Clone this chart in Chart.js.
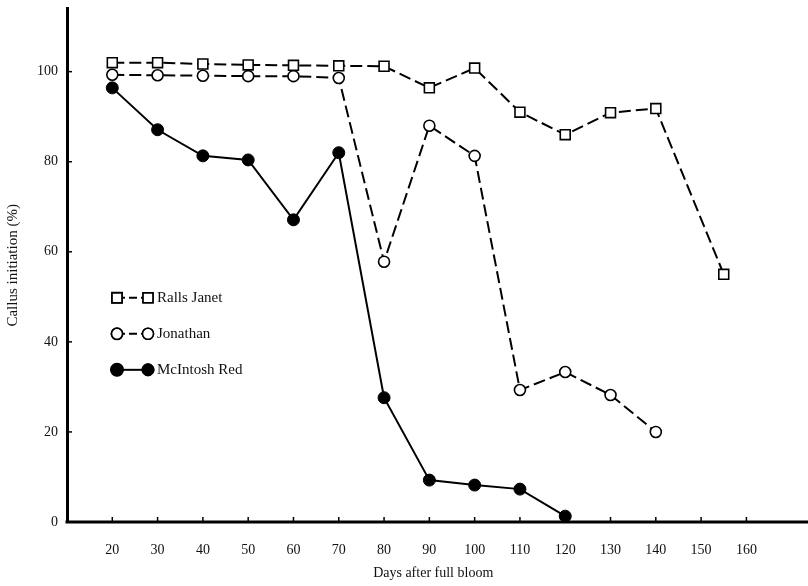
<!DOCTYPE html>
<html>
<head>
<meta charset="utf-8">
<script src="https://cdn.jsdelivr.net/npm/chart.js@4/dist/chart.umd.min.js"></script>
<style>
  html, body { margin: 0; padding: 0; background: #fff; overflow: hidden; }
  canvas { display: block; }
</style>
</head>
<body>
<canvas id="chart" width="808" height="586"></canvas>
<script>
// data
const daysRalls = [20, 30, 40, 50, 60, 70, 80, 90, 100, 110, 120, 130, 140, 155];
const rallsJanet = [102, 102, 101.7, 101.5, 101.4, 101.3, 101.2, 96.4, 100.8, 91, 86, 90.9, 91.8, 55];
const daysJonathan = [20, 30, 40, 50, 60, 70, 80, 90, 100, 110, 120, 130, 140];
const jonathan = [99.3, 99.2, 99.1, 99, 99, 98.6, 57.8, 88, 81.3, 29.3, 33.3, 28.2, 20];
const daysMcIntosh = [20, 30, 40, 50, 60, 70, 80, 90, 100, 110, 120];
const mcIntoshRed = [96.4, 87.1, 81.3, 80.4, 67.1, 82, 27.6, 9.3, 8.2, 7.3, 1.3];
const xTicks = [20, 30, 40, 50, 60, 70, 80, 90, 100, 110, 120, 130, 140, 150, 160];
const yTicks = [0, 20, 40, 60, 80, 100];
const seriesNames = ['Ralls Janet', 'Jonathan', 'McIntosh Red'];

const pts = (xs, ys) => xs.map((x, i) => ({ x: x, y: ys[i] }));
const serif = '"Liberation Serif", "DejaVu Serif", serif';
const noPad = s => { s.paddingLeft = 0; s.paddingRight = 0; s.paddingTop = 0; s.paddingBottom = 0; };

// x axis line to the edge, inward tick marks, and the in-plot legend
const extras = {
  id: 'extras',
  afterDraw(chart) {
    const ctx = chart.ctx;
    const xs = chart.scales.x, ys = chart.scales.y;
    const a = chart.chartArea;
    ctx.save();
    ctx.strokeStyle = '#000';
    ctx.lineWidth = 3;
    ctx.beginPath(); ctx.moveTo(a.left - 1.5, a.bottom); ctx.lineTo(chart.width, a.bottom); ctx.stroke();
    ctx.lineWidth = 1.5;
    xTicks.forEach(v => {
      const px = xs.getPixelForValue(v);
      ctx.beginPath(); ctx.moveTo(px, a.bottom); ctx.lineTo(px, a.bottom - 5); ctx.stroke();
    });
    yTicks.forEach(v => {
      const py = ys.getPixelForValue(v);
      ctx.beginPath(); ctx.moveTo(a.left, py); ctx.lineTo(a.left + 5, py); ctx.stroke();
    });

    // legend
    const lx = a.left + 50, gap = 36;
    const ly0 = ys.getPixelForValue(50) + 1;
    chart.data.datasets.forEach((ds, i) => {
      const y = ly0 + i * gap;
      ctx.strokeStyle = '#000';
      ctx.lineWidth = ds.borderWidth;
      ctx.setLineDash(ds.borderDash && ds.borderDash.length ? [8, 4] : []);
      ctx.beginPath(); ctx.moveTo(lx, y); ctx.lineTo(lx + 31, y); ctx.stroke();
      ctx.setLineDash([]);
      [lx, lx + 31].forEach(mx => {
        Chart.helpers.drawPoint(ctx, {
          pointStyle: ds.pointStyle, radius: ds.pointRadius, rotation: 0, borderWidth: ds.pointBorderWidth
        }, mx, y);
        ctx.fillStyle = ds.pointBackgroundColor;
        ctx.strokeStyle = '#000';
        ctx.lineWidth = ds.pointBorderWidth;
        ctx.fill(); ctx.stroke();
      });
      ctx.fillStyle = '#111';
      ctx.font = '15px ' + serif;
      ctx.textBaseline = 'middle';
      ctx.fillText(ds.label, lx + 40, y);
    });
    ctx.restore();
  }
};

new Chart(document.getElementById('chart'), {
  type: 'line',
  data: {
    datasets: [
      {
        label: seriesNames[0], data: pts(daysRalls, rallsJanet),
        borderColor: '#000', borderWidth: 2, borderDash: [12, 5],
        pointStyle: 'rect', pointRadius: 7, pointBorderWidth: 1.6,
        pointBackgroundColor: '#fff', pointBorderColor: '#000'
      },
      {
        label: seriesNames[1], data: pts(daysJonathan, jonathan),
        borderColor: '#000', borderWidth: 2, borderDash: [12, 5],
        pointStyle: 'circle', pointRadius: 5.5, pointBorderWidth: 1.6,
        pointBackgroundColor: '#fff', pointBorderColor: '#000'
      },
      {
        label: seriesNames[2], data: pts(daysMcIntosh, mcIntoshRed),
        borderColor: '#000', borderWidth: 2, borderDash: [],
        pointStyle: 'circle', pointRadius: 6, pointBorderWidth: 1,
        pointBackgroundColor: '#000', pointBorderColor: '#000'
      }
    ]
  },
  options: {
    responsive: false,
    animation: false,
    layout: { padding: { top: 8, right: 0, left: 0, bottom: 0 } },
    plugins: { legend: { display: false }, tooltip: { enabled: false } },
    scales: {
      x: {
        type: 'linear', min: 10, max: 171.7,
        afterBuildTicks: s => { s.ticks = xTicks.map(v => ({ value: v })); },
        afterFit: s => { s.height = 64; noPad(s); },
        grid: { display: false, drawTicks: false },
        border: { display: false },
        ticks: { color: '#111', padding: 20, font: { family: serif, size: 14 } },
        title: { display: true, text: 'Days after full bloom', color: '#111', padding: { top: 19 }, font: { family: serif, size: 14 } }
      },
      y: {
        min: 0, max: 114,
        afterBuildTicks: s => { s.ticks = yTicks.map(v => ({ value: v })); },
        afterFit: s => { s.width = 67; noPad(s); },
        grid: { display: false, drawTicks: false },
        border: { display: true, color: '#000', width: 3 },
        ticks: { color: '#111', padding: 9, font: { family: serif, size: 14 } },
        title: { display: true, text: 'Callus initiation (%)', color: '#111', padding: { bottom: 4 }, font: { family: serif, size: 15 } }
      }
    }
  },
  plugins: [extras]
});
</script>
</body>
</html>
